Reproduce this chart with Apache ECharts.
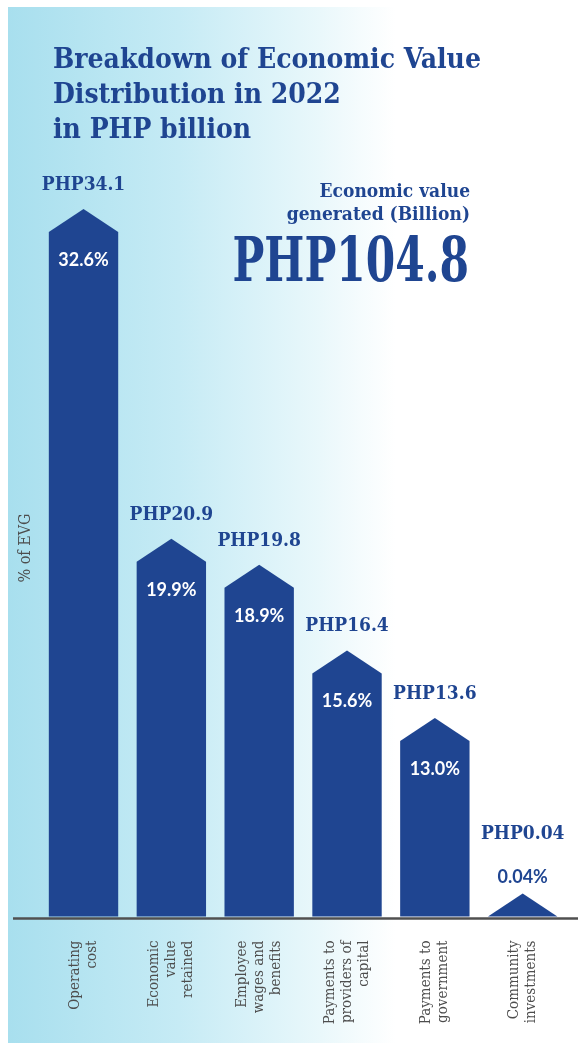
<!DOCTYPE html>
<html>
<head>
<meta charset="utf-8">
<title>Breakdown of Economic Value Distribution in 2022</title>
<script src="https://cdn.jsdelivr.net/npm/echarts@6/dist/echarts.min.js"></script>
<style>
  html, body { margin: 0; padding: 0; background: #fff; }
  #chart { width: 578px; height: 1052px; }
</style>
</head>
<body>
<div id="chart"></div>
<script>
// chart data
const categories = [
  'Operating\ncost',
  'Economic\nvalue\nretained',
  'Employee\nwages and\nbenefits',
  'Payments to\nproviders of\ncapital',
  'Payments to\ngovernment',
  'Community\ninvestments'
]
const sharePct = [32.6, 19.9, 18.9, 15.6, 13.0, 0.04]
const shareLabels = ['32.6%', '19.9%', '18.9%', '15.6%', '13.0%', '0.04%']
const amountLabels = ['PHP34.1', 'PHP20.9', 'PHP19.8', 'PHP16.4', 'PHP13.6', 'PHP0.04']
const totalLabel = 'PHP104.8'

const BLUE = '#1f4591'
const GREY = '#4d4d4d'
const SLAB = '"DejaVu Serif Condensed", "DejaVu Serif", serif'
const Y_MIN = 6.24
const ROOF = 23

const chart = echarts.init(document.getElementById('chart'))

function renderBar(params, api) {
  const idx = api.value(0)
  const val = api.value(1)
  const base = api.coord([idx, Y_MIN])
  const top = api.coord([idx, Math.max(val, Y_MIN)])
  const w = api.size([1, 0])[0] * 0.79
  const cx = base[0]
  const left = cx - w / 2
  const right = cx + w / 2
  const shoulder = top[1]
  const peak = shoulder - ROOF
  const inside = val > Y_MIN
  const children = [{
    type: 'polygon',
    shape: {
      points: [[left, base[1]], [left, shoulder], [cx, peak], [right, shoulder], [right, base[1]]]
    },
    style: { fill: BLUE }
  }, {
    type: 'text',
    style: {
      x: cx,
      y: inside ? shoulder + 28 : peak - 16,
      text: shareLabels[params.dataIndex],
      fill: inside ? '#fff' : BLUE,
      fontFamily: 'Lato',
      fontWeight: 'bold',
      fontSize: 18,
      align: 'center',
      verticalAlign: 'middle'
    }
  }, {
    type: 'text',
    style: {
      x: cx,
      y: inside ? peak - 24 : peak - 59,
      text: amountLabels[params.dataIndex],
      fill: BLUE,
      fontFamily: SLAB,
      fontWeight: 'bold',
      fontSize: 19,
      align: 'center',
      verticalAlign: 'middle'
    }
  }]
  return { type: 'group', children: children }
}

chart.setOption({
  backgroundColor: '#fff',
  animation: false,
  title: {
    text: 'Breakdown of Economic Value\nDistribution in 2022\nin PHP billion',
    left: 48,
    top: 38,
    textStyle: {
      color: BLUE,
      fontFamily: SLAB,
      fontWeight: 'bold',
      fontSize: 28,
      lineHeight: 35
    }
  },
  graphic: [{
    type: 'rect',
    z: -10,
    silent: true,
    shape: { x: 8, y: 7, width: 570, height: 1036 },
    style: {
      fill: new echarts.graphic.LinearGradient(0, 0, 1, 0, [
        { offset: 0, color: '#a8dfee' },
        { offset: 0.3, color: '#c6ebf5' },
        { offset: 0.55, color: '#eaf8fb' },
        { offset: 0.68, color: '#ffffff' },
        { offset: 1, color: '#ffffff' }
      ])
    }
  }, {
    type: 'line',
    z: 10,
    silent: true,
    shape: { x1: 13, y1: 918.5, x2: 578, y2: 918.5 },
    style: { stroke: '#505050', lineWidth: 2.5 }
  }, {
    type: 'text',
    x: 26,
    y: 548,
    rotation: Math.PI / 2,
    style: {
      text: '% of EVG',
      fill: GREY,
      fontFamily: SLAB,
      fontSize: 16,
      align: 'center',
      verticalAlign: 'middle'
    }
  }, {
    type: 'text',
    x: 470,
    y: 181,
    style: {
      text: 'Economic value\ngenerated (Billion)',
      fill: BLUE,
      fontFamily: SLAB,
      fontWeight: 'bold',
      fontSize: 19,
      lineHeight: 23,
      align: 'right',
      verticalAlign: 'top'
    }
  }, {
    type: 'text',
    x: 469,
    y: 234,
    scaleX: 0.76,
    style: {
      text: totalLabel,
      fill: BLUE,
      fontFamily: SLAB,
      fontWeight: 'bold',
      fontSize: 62,
      align: 'right',
      verticalAlign: 'top'
    }
  }],
  grid: {
    top: 40,
    left: 39.6,
    right: 11.4,
    bottom: 135.5
  },
  xAxis: {
    type: 'category',
    data: categories,
    axisLine: { show: false },
    axisTick: { show: false },
    axisLabel: {
      rotate: 90,
      margin: 24,
      interval: 0,
      color: GREY,
      fontFamily: SLAB,
      fontSize: 15,
      lineHeight: 17
    }
  },
  yAxis: {
    type: 'value',
    min: Y_MIN,
    max: 40,
    show: false
  },
  series: [{
    type: 'custom',
    renderItem: renderBar,
    encode: { x: 0, y: 1 },
    data: sharePct.map(function(v, i) { return [i, v] })
  }]
})
</script>
</body>
</html>
